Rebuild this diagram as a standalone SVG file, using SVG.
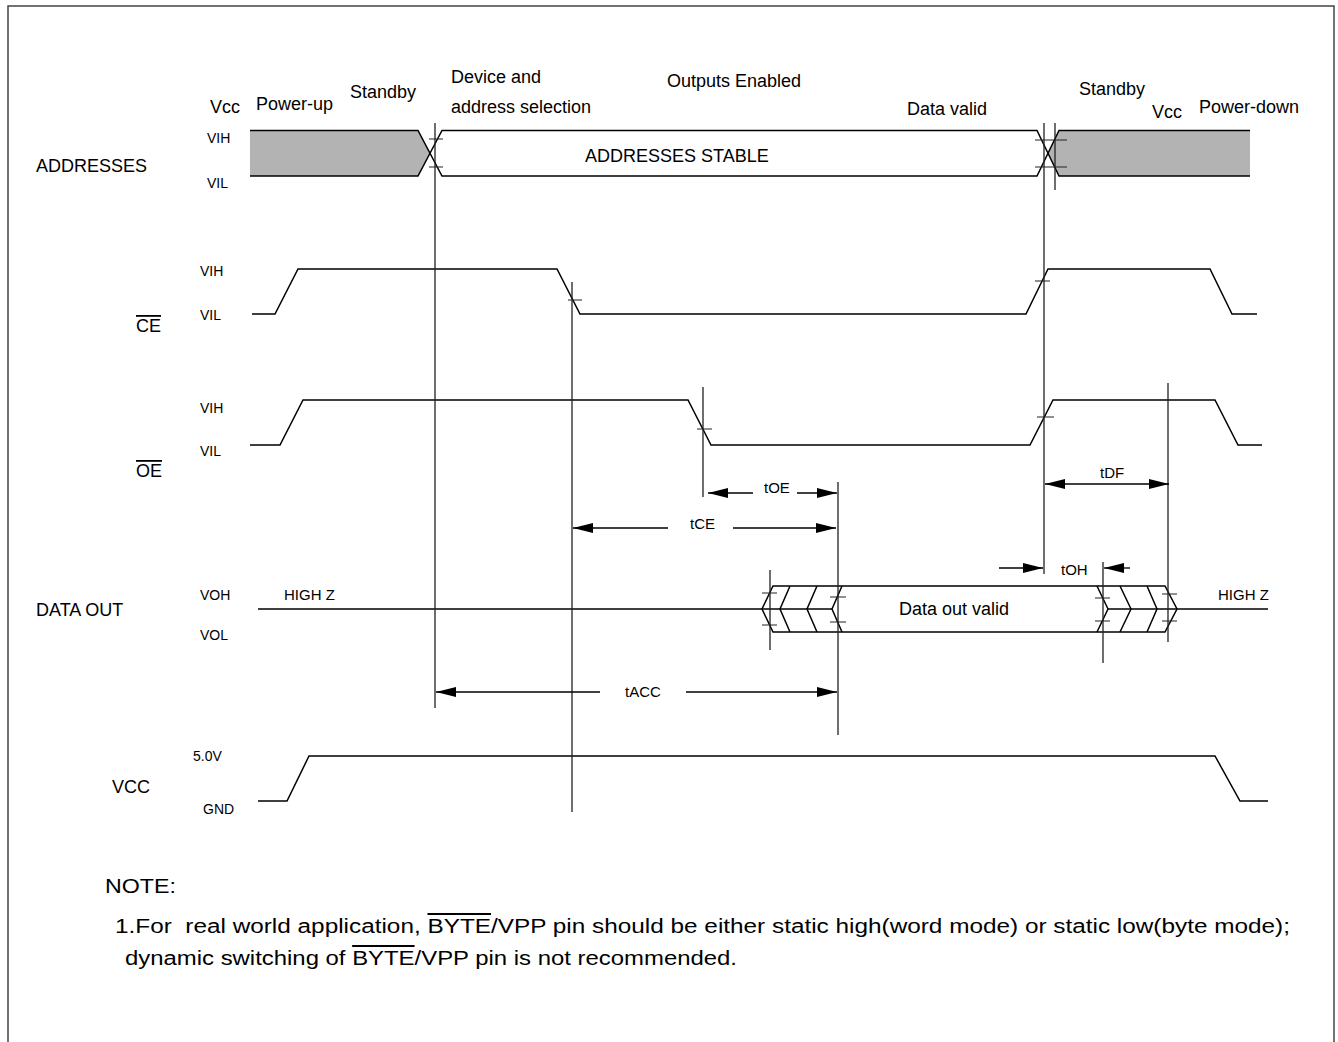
<svg xmlns="http://www.w3.org/2000/svg" width="1338" height="1042" viewBox="0 0 1338 1042">
<defs>
<marker id="ah" markerUnits="userSpaceOnUse" markerWidth="20" markerHeight="10" refX="20" refY="5" orient="auto">
<path d="M0,0 L20,5 L0,10 z" fill="#000"/>
</marker>
<style>
text{font-family:"Liberation Sans",Arial,sans-serif;fill:#000}
.lbl{font-size:18px}
.sm{font-size:14px}
.tm{font-size:15px}
.hz{font-size:15px}
.nt{font-size:20px}
.w{fill:none;stroke:#000;stroke-width:1.5}
.v{fill:none;stroke:#222;stroke-width:1.3}
.tk{fill:none;stroke:#222;stroke-width:1.2}
.ar{fill:none;stroke:#000;stroke-width:1.3}
.gray{fill:#b3b3b3;stroke:none}
.ov{text-decoration:overline}
</style>
</defs>
<rect width="1338" height="1042" fill="#fff"/>
<path d="M8,1042 V6 H1334 V1042" fill="none" stroke="#444" stroke-width="1.5"/>

<g id="phase-labels" class="lbl">
<text x="210" y="113">Vcc</text>
<text x="256" y="110">Power-up</text>
<text x="350" y="98">Standby</text>
<text x="451" y="83">Device and</text>
<text x="451" y="113">address selection</text>
<text x="667" y="87">Outputs Enabled</text>
<text x="907" y="115">Data valid</text>
<text x="1079" y="95">Standby</text>
<text x="1152" y="118">Vcc</text>
<text x="1199" y="113">Power-down</text>
</g>

<g id="addresses">
<polygon class="gray" points="250,130.5 418,130.5 430,153 418,176 250,176"/>
<polygon class="gray" points="1250,130.5 1059,130.5 1048,153 1059,176 1250,176"/>
<path class="w" d="M250,130.5 H418 L442,176 H1037 L1059,130.5 H1250"/>
<path class="w" d="M250,176 H418 L442,130.5 H1037 L1059,176 H1250"/>
<text class="lbl" x="36" y="172">ADDRESSES</text>
<text class="sm" x="207" y="143">VIH</text>
<text class="sm" x="207" y="188">VIL</text>
<text class="lbl" x="585" y="162">ADDRESSES STABLE</text>
</g>

<g id="ce">
<path class="w" d="M252,314 H275 L298,269 H557 L580,314 H1026 L1048,269 H1210 L1232,314 H1257"/>
<text class="lbl ov" x="136" y="332">CE</text>
<text class="sm" x="200" y="276">VIH</text>
<text class="sm" x="200" y="320">VIL</text>
</g>

<g id="oe">
<path class="w" d="M250,445 H280 L303,400 H688 L711,445 H1030 L1053,400 H1215 L1238,445 H1262"/>
<text class="lbl ov" x="136" y="477">OE</text>
<text class="sm" x="200" y="413">VIH</text>
<text class="sm" x="200" y="456">VIL</text>
</g>

<g id="data-out">
<path class="w" d="M258,609 H832"/>
<path class="w" d="M1108,609 H1268"/>
<path class="w" d="M773,586 H1165 L1177,609 L1165,632 H773 L762,609 Z"/>
<path class="w" d="M790,586 L780,609 L790,632 M817,586 L807,609 L817,632 M842,586 L832,609 L842,632"/>
<path class="w" d="M1097,586 L1108,609 L1097,632 M1120,586 L1131,609 L1120,632 M1147,586 L1157,609 L1147,632"/>
<text class="lbl" x="36" y="616">DATA OUT</text>
<text class="sm" x="200" y="600">VOH</text>
<text class="sm" x="200" y="640">VOL</text>
<text class="hz" x="284" y="600">HIGH Z</text>
<text class="hz" x="1218" y="600">HIGH Z</text>
<text class="lbl" x="899" y="615">Data out valid</text>
</g>

<g id="vcc">
<path class="w" d="M258,801 H287 L309,756 H1215 L1240,801 H1268"/>
<text class="lbl" x="112" y="793">VCC</text>
<text class="sm" x="193" y="761">5.0V</text>
<text class="sm" x="203" y="814">GND</text>
</g>

<g id="connectors">
<path class="v" d="M435,123 V708 M1044,123 V574 M1055,123 V190 M572,282 V812 M703,387 V497 M838,482 V735 M1168,383 V642 M770,570 V650 M1103,562 V663"/>
<path class="tk" d="M429,139 H443 M429,167 H443 M1035,140 H1067 M1035,167 H1067 M568,300 H582 M1035,281 H1050 M697,429 H712 M1037,417 H1054 M762,593 H777 M762,625 H777 M830,597 H846 M830,622 H846 M1095,598 H1110 M1095,621 H1110 M1162,594 H1177 M1162,621 H1177"/>
<path class="ar" marker-end="url(#ah)" d="M753,493 H708"/>
<path class="ar" marker-end="url(#ah)" d="M797,493 H837"/>
<path class="ar" marker-end="url(#ah)" d="M668,528 H573"/>
<path class="ar" marker-end="url(#ah)" d="M733,528 H836"/>
<path class="ar" marker-end="url(#ah)" d="M600,692 H436"/>
<path class="ar" marker-end="url(#ah)" d="M686,692 H837"/>
<path class="ar" marker-end="url(#ah)" d="M999,568 H1043"/>
<path class="ar" marker-end="url(#ah)" d="M1130,568 H1104"/>
<path class="ar" marker-end="url(#ah)" d="M1110,484 H1045"/>
<path class="ar" marker-end="url(#ah)" d="M1110,484 H1169"/>
<text class="tm" x="764" y="493">tOE</text>
<text class="tm" x="690" y="529">tCE</text>
<text class="tm" x="625" y="697">tACC</text>
<text class="tm" x="1061" y="575">tOH</text>
<text class="tm" x="1100" y="478">tDF</text>
</g>

<g id="note">
<text class="nt" x="105" y="893" textLength="71" lengthAdjust="spacingAndGlyphs">NOTE:</text>
<text class="nt" x="115" y="933" textLength="1175" lengthAdjust="spacingAndGlyphs">1.For &#160;real world application, <tspan class="ov">BYTE</tspan>/VPP pin should be either static high(word mode) or static low(byte mode);</text>
<text class="nt" x="125" y="965" textLength="612" lengthAdjust="spacingAndGlyphs">dynamic switching of <tspan class="ov">BYTE</tspan>/VPP pin is not recommended.</text>
</g>
</svg>
